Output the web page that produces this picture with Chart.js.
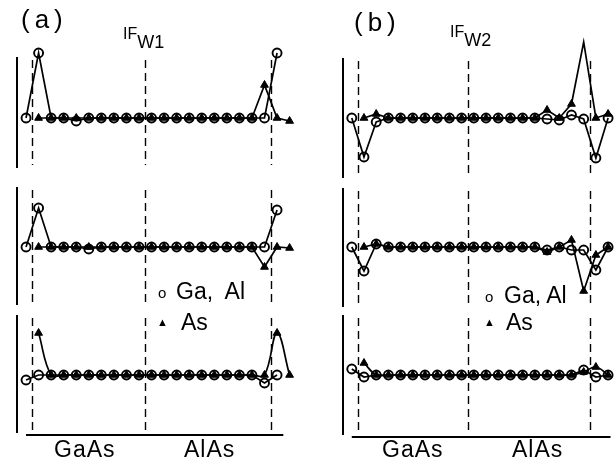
<!DOCTYPE html>
<html>
<head>
<meta charset="utf-8">
<script src="https://cdn.jsdelivr.net/npm/chart.js@4.4.1/dist/chart.umd.min.js"></script>
<style>
  html, body { margin: 0; padding: 0; background: #fff; overflow: hidden; }
  #fig { position: relative; width: 614px; height: 468px; overflow: hidden; }
  canvas { position: absolute; top: 0; }
  .t { position: absolute; font-family: "Liberation Sans", Arial, sans-serif; color: #000; line-height: 1; white-space: pre; }
  .sub { font-size: 18px; position: relative; top: 9px; }
</style>
</head>
<body>
<div id="fig">
  <canvas id="a1" width="300" height="468" style="left:0"></canvas>
  <canvas id="a2" width="300" height="468" style="left:0"></canvas>
  <canvas id="a3" width="300" height="468" style="left:0"></canvas>
  <canvas id="b1" width="314" height="468" style="left:300px"></canvas>
  <canvas id="b2" width="314" height="468" style="left:300px"></canvas>
  <canvas id="b3" width="314" height="468" style="left:300px"></canvas>

  <div class="t" style="left:21px;top:6px;font-size:26px;letter-spacing:5px">(a)</div>
  <div class="t" style="left:123px;top:24px;font-size:16px">IF<span class="sub">W1</span></div>
  <div class="t" style="left:354px;top:9px;font-size:26px;letter-spacing:5px">(b)</div>
  <div class="t" style="left:450px;top:22px;font-size:16px">IF<span class="sub">W2</span></div>

  <div class="t" style="left:158px;top:285px;font-size:15px">o</div>
  <div class="t" style="left:176px;top:280px;font-size:23px">Ga,  Al</div>
  <div class="t" style="left:157px;top:317px;font-size:11px">▲</div>
  <div class="t" style="left:181px;top:311px;font-size:23px">As</div>

  <div class="t" style="left:485px;top:289px;font-size:15px">o</div>
  <div class="t" style="left:504px;top:284px;font-size:23px">Ga, Al</div>
  <div class="t" style="left:484px;top:317px;font-size:11px">▲</div>
  <div class="t" style="left:506px;top:311px;font-size:23px">As</div>

  <div class="t" style="left:54px;top:438px;font-size:23px;letter-spacing:1px">GaAs</div>
  <div class="t" style="left:184px;top:438px;font-size:23px;letter-spacing:1px">AlAs</div>
  <div class="t" style="left:382px;top:438px;font-size:23px;letter-spacing:1px">GaAs</div>
  <div class="t" style="left:512px;top:438px;font-size:23px;letter-spacing:1px">AlAs</div>
</div>

<script>
// layer index along the superlattice
const layers = [0, 1, 2, 3, 4, 5, 6, 7, 8, 9, 10, 11, 12, 13, 14, 15, 16, 17, 18, 19, 20, 21];
// dashed interface positions (layer units)
const interfaces = [0.5, 9.5, 19.5];

// (a) IF_W1 — Ga/Al (circles) and As (triangles)
const a1GaAl = [0, 6.5, 0, 0, -0.3, 0, 0, 0, 0, 0, 0, 0, 0, 0, 0, 0, 0, 0, 0, 0, 6.5, null];
const a1As   = [null, 0, 0, 0, 0, 0, 0, 0, 0, 0, 0, 0, 0, 0, 0, 0, 0, 0, 0, 3.3, 0, -0.3];
const a2GaAl = [0, 3.9, 0, 0, 0, -0.2, 0, 0, 0, 0, 0, 0, 0, 0, 0, 0, 0, 0, 0, 0, 3.7, null];
const a2As   = [null, 0, 0, 0, 0, 0, 0, 0, 0, 0, 0, 0, 0, 0, 0, 0, 0, 0, 0, -2.0, 0, -0.1];
const a3GaAl = [-0.5, 0, 0, 0, 0, 0, 0, 0, 0, 0, 0, 0, 0, 0, 0, 0, 0, 0, 0, -0.8, 0, null];
const a3As   = [null, 4.2, 0, 0, 0, 0, 0, 0, 0, 0, 0, 0, 0, 0, 0, 0, 0, 0, 0, 0, 4.2, 0];

// (b) IF_W2
const b1GaAl = [0, -3.9, -0.4, 0, 0, 0, 0, 0, 0, 0, 0, 0, 0, 0, 0, 0, -0.1, -0.2, 0.3, -0.1, -4.0, 0];
const b1As   = [null, 0, 0.4, 0, 0, 0, 0, 0, 0, 0, 0, 0, 0, 0, 0, 0, 0.8, 0, 1.4, 7.6, 0, 0.4];
const b2GaAl = [0, -2.4, 0.3, 0, 0, 0, 0, 0, 0, 0, 0, 0, 0, 0, 0, 0, -0.3, 0, -0.3, -0.3, -2.3, 0];
const b2As   = [null, 0, 0.3, 0, 0, 0, 0, 0, 0, 0, 0, 0, 0, 0, 0, 0, -0.5, 0, 0.7, -4.4, -0.8, 0];
const b3GaAl = [0.6, -0.2, 0, 0, 0, 0, 0, 0, 0, 0, 0, 0, 0, 0, 0, 0, 0, 0, 0, 0.5, -0.2, 0];
const b3As   = [null, 1.2, 0, 0, 0, 0, 0, 0, 0, 0, 0, 0, 0, 0, 0, 0, 0, 0, 0, 0.3, 0.8, 0];

const toPoints = vals => layers.map((x, i) => ({ x, y: vals[i] }));

// draws the left axis, dashed interfaces and (bottom row) the base axis
const framePlugin = {
  id: "frame",
  beforeDatasetsDraw(chart, args, opts) {
    const { ctx, chartArea: a, scales: { x } } = chart;
    ctx.save();
    ctx.strokeStyle = "#000";
    ctx.lineWidth = 2;
    ctx.beginPath();
    ctx.moveTo(a.left, a.top);
    ctx.lineTo(a.left, a.bottom);
    ctx.stroke();

    ctx.lineWidth = 1.4;
    ctx.setLineDash([8, 5]);
    interfaces.forEach(v => {
      const px = Math.round(x.getPixelForValue(v)) + 0.5;
      ctx.beginPath();
      ctx.moveTo(px, a.top + 3);
      ctx.lineTo(px, a.bottom - 3);
      ctx.stroke();
    });
    ctx.setLineDash([]);

    if (opts.baseAxis) {
      ctx.lineWidth = 2;
      ctx.beginPath();
      ctx.moveTo(x.getPixelForValue(0), a.bottom + 2);
      ctx.lineTo(x.getPixelForValue(opts.baseEnd), a.bottom + 2);
      ctx.stroke();
    }
    ctx.restore();
  },
};

function makePanel(id, col, row, gaal, as, smooth) {
  const el = document.getElementById(id);
  return new Chart(el, {
    type: "line",
    data: {
      datasets: [
        {
          label: "As",
          data: toPoints(as),
          borderColor: "#000",
          borderWidth: 1.7,
          pointStyle: "triangle",
          pointRadius: 4.5,
          pointBackgroundColor: "#000",
          pointBorderColor: "#000",
          pointBorderWidth: 1,
          tension: smooth ? 0.4 : 0,
          clip: false,
        },
        {
          label: "Ga, Al",
          data: toPoints(gaal),
          borderColor: "#000",
          borderWidth: 1.7,
          pointStyle: "circle",
          pointRadius: 4.5,
          pointBackgroundColor: "rgba(0,0,0,0)",
          pointBorderColor: "#000",
          pointBorderWidth: 1.9,
          tension: 0,
          clip: false,
        },
      ],
    },
    options: {
      responsive: false,
      animation: false,
      events: [],
      layout: {
        padding: { left: col.padLeft, right: col.padRight, top: row.top, bottom: 468 - row.bottom },
      },
      plugins: {
        legend: { display: false },
        tooltip: { enabled: false },
        frame: { baseAxis: !!row.base, baseEnd: col.baseEnd },
      },
      scales: {
        x: { type: "linear", display: false, min: col.xMin, max: col.xMax },
        y: { type: "linear", display: false, min: row.yMin, max: row.yMax },
      },
    },
    plugins: [framePlugin],
  });
}

const colA = { padLeft: 17, padRight: 10.4, xMin: -0.72, xMax: 21, baseEnd: 20.5 };
const colB = { padLeft: 43, padRight: 0, xMin: -0.72, xMax: 20.96, baseEnd: 21.2 };

makePanel("a1", colA, { top: 57, bottom: 168, yMin: -5.0, yMax: 6.1 }, a1GaAl, a1As);
makePanel("a2", colA, { top: 187, bottom: 305, yMin: -5.8, yMax: 6.0 }, a2GaAl, a2As);
makePanel("a3", colA, { top: 315, bottom: 433, yMin: -5.8, yMax: 6.0, base: true }, a3GaAl, a3As, true);
makePanel("b1", colB, { top: 58, bottom: 178, yMin: -6.0, yMax: 6.0 }, b1GaAl, b1As);
makePanel("b2", colB, { top: 188, bottom: 307, yMin: -6.0, yMax: 5.9 }, b2GaAl, b2As);
makePanel("b3", colB, { top: 315, bottom: 435, yMin: -6.0, yMax: 6.0, base: true }, b3GaAl, b3As, true);
</script>
</body>
</html>
